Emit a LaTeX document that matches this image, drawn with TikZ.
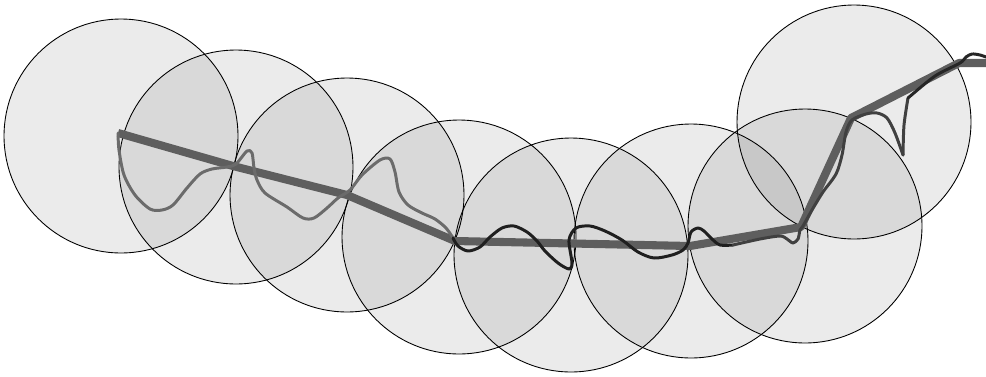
\documentclass[tikz,border=0pt]{standalone}
\usepackage{tikz}
\tikzset{
  zone/.style={
    shape = circle,
    draw,
    line width = 0.5pt,
    fill = black,
    fill opacity = 0.08,
    inner sep = 0pt,
    minimum size = 4.68cm
  },
  track/.style={
    line width = 4.6pt,
    draw = black!63,
    line join = round
  },
  trace/.style={
    line width = 1.7pt,
    line join = round,
    line cap = round
  }
}
\begin{document}
\begin{tikzpicture}[x=0.02cm,y=-0.02cm]
            \useasboundingbox (0,0) rectangle (986,376);
            % the circles
            \node[zone] (c1) at (121,136) {};
            \node[zone] (c2) at (236,167) {};
            \node[zone] (c3) at (347,195) {};
            \node[zone] (c4) at (459,237) {};
            \node[zone] (c5) at (571,255) {};
            \node[zone] (c6) at (691,241) {};
            \node[zone] (c7) at (805,226) {};
            \node[zone] (c8) at (854,122) {};
            % the straight track
            \coordinate (p1) at (118,133);
            \coordinate (p2) at (233,166);
            \coordinate (p3) at (347,195);
            \coordinate (p4) at (455,241);
            \coordinate (p5) at (690,246);
            \coordinate (p6) at (801,227);
            \coordinate (p7) at (851,118);
            \coordinate (p8) at (959,63);
            \coordinate (p9) at (986,63);
            \draw[track] (p1)--(p2)--(p3)--(p4)--(p5)--(p6)--(p7)--(p8)--(p9);
            % the wavy trace
            \draw[trace,black!58] plot[smooth,tension=0.5] coordinates {
              (118,133) (119,150) (124,175) (135,195) (150,209) (162,210)
              (173,205) (187,188) (200,174) (212,169) (227,167) (236,164)
              (247,151) (252,153) (254,168) (257,180) (265,193) (287,207)
              (303,218) (314,218) (327,208) (338,198) (350,190) (362,175)
              (380,160) (390,159) (395,172) (399,192) (408,205) (422,213)
              (435,219) (446,228) (453,238)};
            \draw[trace,black!88] plot[smooth,tension=0.5] coordinates {
              (453,238) (458,246) (468,251) (480,247) (490,237) (502,228)
              (514,226) (527,232) (537,241) (545,251) (558,263) (569,269)
              (572,263) (569,240) (576,228) (590,226) (605,231) (622,240)
              (638,252) (654,258) (672,255) (683,250) (688,243) (691,232)
              (698,228) (704,231) (712,239) (720,245) (733,245)};
            \draw[trace,black!75] plot[smooth,tension=0.5] coordinates {
              (733,245) (760,239) (780,236) (787,239) (793,243) (798,239)
              (800,230) (803,226) (812,210) (823,192) (836,174) (842,155)
              (846,132) (852,120) (866,114) (877,113) (887,118) (895,133)
              (903,155)};
            \draw[trace,black!75] plot[smooth,tension=0.5] coordinates {
              (903,155) (904,125) (908,98)};
            \draw[trace,black!85] plot[smooth,tension=0.5] coordinates {
              (908,98) (935,76) (960,63) (966,57) (972,54) (980,55) (986,57)};
\end{tikzpicture}
\end{document}
